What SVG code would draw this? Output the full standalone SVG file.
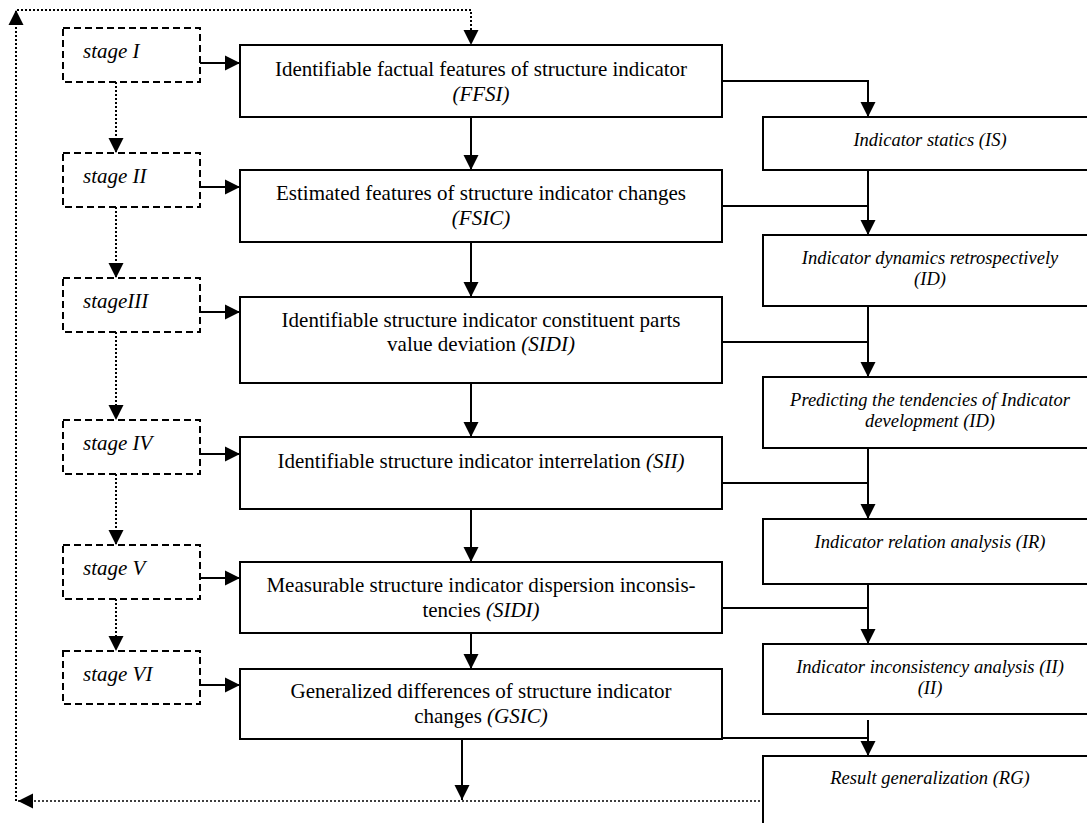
<svg xmlns="http://www.w3.org/2000/svg" width="1087" height="823" viewBox="0 0 1087 823">
<style>
.stage rect{fill:#fff;stroke:#000;stroke-width:2;stroke-dasharray:7,4}
.main rect,.res rect{fill:#fff;stroke:#000;stroke-width:2}
.st{font-family:"Liberation Serif","Times New Roman",serif;font-style:italic;font-size:21px;fill:#000}
.mt{font-family:"Liberation Serif","Times New Roman",serif;font-size:21px;fill:#000;text-anchor:middle}
.rt{font-family:"Liberation Serif","Times New Roman",serif;font-style:italic;font-size:18.5px;fill:#000;text-anchor:middle}
.it{font-style:italic}
.solid{fill:none;stroke:#000;stroke-width:2}
.dot{fill:none;stroke:#000;stroke-width:2;stroke-dasharray:2,2}
.dotthin{fill:none;stroke:#000;stroke-width:1.3;stroke-dasharray:2,2}
</style>
<defs>
<marker id="ah" markerUnits="userSpaceOnUse" markerWidth="16" markerHeight="16" viewBox="0 0 16 16" refX="15" refY="8" orient="auto">
<path d="M0,0.5 L15,8 L0,15.5 z" fill="#000"/>
</marker>
</defs>
<g id="connectors">
<path class="dotthin" d="M768,801 L18,801" marker-end="url(#ah)"/>
<path class="dot" d="M16,801 L16,10" marker-end="url(#ah)"/>
<path class="dot" d="M17,10 L471,10 L471,45" marker-end="url(#ah)"/>
<path class="dot" d="M116,82 L116,153" marker-end="url(#ah)"/>
<path class="dot" d="M116,207 L116,278" marker-end="url(#ah)"/>
<path class="dot" d="M116,332 L116,420" marker-end="url(#ah)"/>
<path class="dot" d="M116,474 L116,545" marker-end="url(#ah)"/>
<path class="dot" d="M116,599 L116,651" marker-end="url(#ah)"/>
<path class="solid" d="M200,63 L240,63" marker-end="url(#ah)"/>
<path class="solid" d="M200,187 L240,187" marker-end="url(#ah)"/>
<path class="solid" d="M200,312 L240,312" marker-end="url(#ah)"/>
<path class="solid" d="M200,454 L240,454" marker-end="url(#ah)"/>
<path class="solid" d="M200,578 L240,578" marker-end="url(#ah)"/>
<path class="solid" d="M200,685 L240,685" marker-end="url(#ah)"/>
<path class="solid" d="M471,117 L471,170" marker-end="url(#ah)"/>
<path class="solid" d="M471,242 L471,297" marker-end="url(#ah)"/>
<path class="solid" d="M471,383 L471,437" marker-end="url(#ah)"/>
<path class="solid" d="M471,509 L471,562" marker-end="url(#ah)"/>
<path class="solid" d="M471,633 L471,669" marker-end="url(#ah)"/>
<path class="solid" d="M462,739 L462,800" marker-end="url(#ah)"/>
<path class="solid" d="M722,81 L868,81 L868,117" marker-end="url(#ah)"/>
<path class="solid" d="M722,206 L868,206"/>
<path class="solid" d="M868,170 L868,235" marker-end="url(#ah)"/>
<path class="solid" d="M722,342 L868,342"/>
<path class="solid" d="M868,306 L868,377" marker-end="url(#ah)"/>
<path class="solid" d="M722,483 L868,483"/>
<path class="solid" d="M868,448 L868,519" marker-end="url(#ah)"/>
<path class="solid" d="M722,608 L868,608"/>
<path class="solid" d="M868,584 L868,644" marker-end="url(#ah)"/>
<path class="solid" d="M722,738 L868,738"/>
<path class="solid" d="M868,720 L868,756" marker-end="url(#ah)"/>
</g>
<g id="stage1" class="stage"><rect x="63" y="28" width="137" height="54"/><text class="st" x="83" y="58">stage I</text></g>
<g id="stage2" class="stage"><rect x="63" y="153" width="137" height="54"/><text class="st" x="83" y="183">stage II</text></g>
<g id="stage3" class="stage"><rect x="63" y="278" width="137" height="54"/><text class="st" x="83" y="308">stageIII</text></g>
<g id="stage4" class="stage"><rect x="63" y="420" width="137" height="54"/><text class="st" x="83" y="450">stage IV</text></g>
<g id="stage5" class="stage"><rect x="63" y="545" width="137" height="54"/><text class="st" x="83" y="575">stage V</text></g>
<g id="stage6" class="stage"><rect x="63" y="651" width="137" height="53"/><text class="st" x="83" y="681">stage VI</text></g>

<g id="ffsi" class="main"><rect x="240" y="45" width="482" height="72"/>
<text class="mt" x="481" y="76">Identifiable factual features of structure indicator</text>
<text class="mt it" x="481" y="101">(FFSI)</text></g>
<g id="fsic" class="main"><rect x="240" y="170" width="482" height="72"/>
<text class="mt" x="481" y="200">Estimated features of structure indicator changes</text>
<text class="mt it" x="481" y="225">(FSIC)</text></g>
<g id="sidi1" class="main"><rect x="240" y="297" width="482" height="86"/>
<text class="mt" x="481" y="327">Identifiable structure indicator constituent parts</text>
<text class="mt" x="481" y="351">value deviation <tspan class="it">(SIDI)</tspan></text></g>
<g id="sii" class="main"><rect x="240" y="437" width="482" height="72"/>
<text class="mt" x="481" y="468">Identifiable structure indicator interrelation <tspan class="it">(SII)</tspan></text></g>
<g id="sidi2" class="main"><rect x="240" y="562" width="482" height="71"/>
<text class="mt" x="481" y="592">Measurable structure indicator dispersion inconsis-</text>
<text class="mt" x="481" y="617">tencies <tspan class="it">(SIDI)</tspan></text></g>
<g id="gsic" class="main"><rect x="240" y="669" width="482" height="70"/>
<text class="mt" x="481" y="698">Generalized differences of structure indicator</text>
<text class="mt" x="481" y="723">changes <tspan class="it">(GSIC)</tspan></text></g>

<g id="is" class="res"><rect x="763" y="117" width="340" height="53"/>
<text class="rt" x="930" y="146">Indicator statics (IS)</text></g>
<g id="id1" class="res"><rect x="763" y="235" width="340" height="71"/>
<text class="rt" x="930" y="264">Indicator dynamics retrospectively</text>
<text class="rt" x="930" y="285">(ID)</text></g>
<g id="id2" class="res"><rect x="763" y="377" width="340" height="71"/>
<text class="rt" x="930" y="406">Predicting the tendencies of Indicator</text>
<text class="rt" x="930" y="427">development (ID)</text></g>
<g id="ir" class="res"><rect x="763" y="519" width="340" height="65"/>
<text class="rt" x="930" y="548">Indicator relation analysis (IR)</text></g>
<g id="ii" class="res"><rect x="763" y="644" width="340" height="70"/>
<text class="rt" x="930" y="673">Indicator inconsistency analysis (II)</text>
<text class="rt" x="930" y="694">(II)</text></g>
<g id="rg" class="res"><rect x="763" y="756" width="340" height="80"/>
<text class="rt" x="930" y="784">Result generalization (RG)</text></g>
</svg>
